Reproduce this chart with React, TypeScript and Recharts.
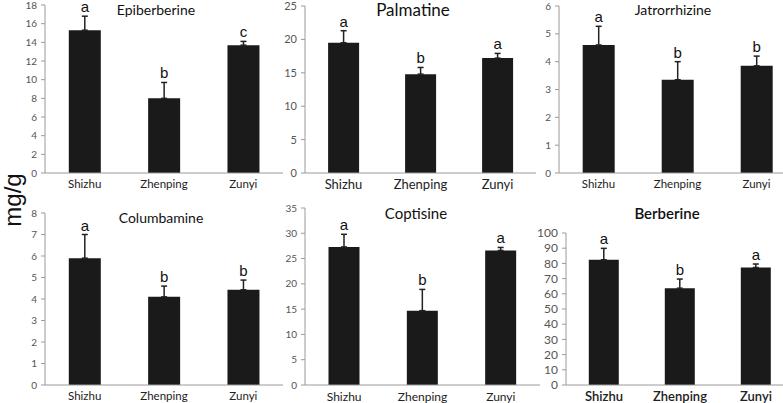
import React from 'react';
import { BarChart, Bar, XAxis, YAxis, ErrorBar, LabelList } from 'recharts';

// sampling sites (x categories)
const sites = ['Shizhu', 'Zhenping', 'Zunyi'];

// mg/g, mean and upper SD, letters = significance groups
const epiberberine = [15.3, 8.0, 13.7];
const epiberberineSd = [1.5, 1.7, 0.4];
const epiberberineSig = ['a', 'b', 'c'];
const epiberberineTicks = [0, 2, 4, 6, 8, 10, 12, 14, 16, 18];

const palmatine = [19.5, 14.8, 17.2];
const palmatineSd = [1.8, 1.0, 0.7];
const palmatineSig = ['a', 'b', 'a'];
const palmatineTicks = [0, 5, 10, 15, 20, 25];

const jatrorrhizine = [4.6, 3.35, 3.85];
const jatrorrhizineSd = [0.67, 0.65, 0.35];
const jatrorrhizineSig = ['a', 'b', 'b'];
const jatrorrhizineTicks = [0, 1, 2, 3, 4, 5, 6];

const columbamine = [5.9, 4.1, 4.43];
const columbamineSd = [1.1, 0.5, 0.45];
const columbamineSig = ['a', 'b', 'b'];
const columbamineTicks = [0, 1, 2, 3, 4, 5, 6, 7, 8];

const coptisine = [27.3, 14.7, 26.6];
const coptisineSd = [2.5, 4.2, 0.6];
const coptisineSig = ['a', 'b', 'a'];
const coptisineTicks = [0, 5, 10, 15, 20, 25, 30, 35];

const berberine = [82.4, 63.7, 77.3];
const berberineSd = [7.5, 6.0, 2.3];
const berberineSig = ['a', 'b', 'a'];
const berberineTicks = [0, 10, 20, 30, 40, 50, 60, 70, 80, 90, 100];

const AXIS = '#9a9a9a';
const FONT = 'Lato, "Open Sans", sans-serif';

type PanelProps = {
  title: string;
  values: number[];
  sd: number[];
  sig: string[];
  ticks: number[];
  left: number;
  top: number;
  width: number;
  height: number;
  yWidth: number;
  marginTop: number;
  xHeight: number;
  titleX: number;
  titleY: number;
  titleSize: number;
  tickSize: number;
  catSize: number;
  bold?: boolean;
};

const Panel = (p: PanelProps) => {
  const data = sites.map((name, i) => ({
    name,
    value: p.values[i],
    sd: [0, p.sd[i]],
    sig: p.sig[i],
  }));

  // letter sits just above the top of the error bar
  const letter = (props: any) => {
    const { x, y, width, height, index, value } = props;
    const perUnit = Number(height) / p.values[index];
    const errTop = Number(y) - p.sd[index] * perUnit;
    return (
      <text
        x={Number(x) + Number(width) / 2}
        y={errTop - 4}
        textAnchor="middle"
        fontSize={15}
        fontFamily='"Liberation Sans", Arial, sans-serif'
        fill="#111"
      >
        {value}
      </text>
    );
  };

  return (
    <div style={{ position: 'absolute', left: p.left, top: p.top }}>
      <BarChart
        width={p.width}
        height={p.height}
        data={data}
        margin={{ top: p.marginTop, right: 0, left: 0, bottom: 0 }}
        barCategoryGap="30%"
      >
        <XAxis
          dataKey="name"
          height={p.xHeight}
          stroke={AXIS}
          tickLine={false}
          tickSize={4}
          tickMargin={3}
          tick={{ fill: '#222', fontSize: p.catSize, fontFamily: FONT, fontWeight: p.bold ? 600 : 400 }}
        />
        <YAxis
          width={p.yWidth}
          domain={[0, p.ticks[p.ticks.length - 1]]}
          ticks={p.ticks}
          interval={0}
          stroke={AXIS}
          tickSize={4}
          tickMargin={4}
          tick={{ fill: '#555', fontSize: p.tickSize, fontFamily: FONT }}
        />
        <Bar dataKey="value" fill="#1a1a1a" isAnimationActive={false}>
          <ErrorBar dataKey="sd" direction="y" width={3} stroke="#222" strokeWidth={1.5} isAnimationActive={false} />
          <LabelList dataKey="sig" content={letter} />
        </Bar>
      </BarChart>
      <div
        style={{
          position: 'absolute',
          left: p.titleX - p.left,
          top: p.titleY - p.top,
          transform: 'translate(-50%, -50%)',
          whiteSpace: 'nowrap',
          fontFamily: FONT,
          fontSize: p.titleSize,
          fontWeight: p.bold ? 600 : 400,
          color: '#111',
        }}
      >
        {p.title}
      </div>
    </div>
  );
};

export default function App() {
  return (
    <div
      style={{
        position: 'absolute',
        left: 0,
        top: 0,
        width: 783,
        height: 403,
        overflow: 'hidden',
        background: '#fff',
      }}
    >
      <Panel title="Epiberberine" values={epiberberine} sd={epiberberineSd} sig={epiberberineSig} ticks={epiberberineTicks}
        left={0} top={0} width={283} height={200} yWidth={45} marginTop={5} xHeight={27}
        titleX={156} titleY={9} titleSize={14} tickSize={10} catSize={11.5} />
      <Panel title="Palmatine" values={palmatine} sd={palmatineSd} sig={palmatineSig} ticks={palmatineTicks}
        left={283} top={0} width={253} height={200} yWidth={22} marginTop={6} xHeight={27}
        titleX={413} titleY={9} titleSize={17} tickSize={11} catSize={13} />
      <Panel title="Jatrorrhizine" values={jatrorrhizine} sd={jatrorrhizineSd} sig={jatrorrhizineSig} ticks={jatrorrhizineTicks}
        left={536} top={0} width={260} height={200} yWidth={23} marginTop={6} xHeight={27}
        titleX={673} titleY={9} titleSize={14} tickSize={10} catSize={11.5} />
      <Panel title="Columbamine" values={columbamine} sd={columbamineSd} sig={columbamineSig} ticks={columbamineTicks}
        left={0} top={200} width={283} height={203} yWidth={45} marginTop={13} xHeight={18}
        titleX={161} titleY={217} titleSize={14} tickSize={10} catSize={11.5} />
      <Panel title="Coptisine" values={coptisine} sd={coptisineSd} sig={coptisineSig} ticks={coptisineTicks}
        left={283} top={200} width={257} height={203} yWidth={22} marginTop={8} xHeight={18}
        titleX={416} titleY={213} titleSize={15} tickSize={10} catSize={12} />
      <Panel title="Berberine" values={berberine} sd={berberineSd} sig={berberineSig} ticks={berberineTicks}
        left={536} top={200} width={258} height={203} yWidth={30} marginTop={33} xHeight={18}
        titleX={667} titleY={213} titleSize={15} tickSize={12} catSize={13} bold />
      <div
        style={{
          position: 'absolute',
          left: 13,
          top: 200,
          transform: 'translate(-50%, -50%) rotate(-90deg)',
          whiteSpace: 'nowrap',
          fontFamily: '"Liberation Sans", Arial, sans-serif',
          fontSize: 24,
          color: '#111',
        }}
      >
        mg/g
      </div>
    </div>
  );
}
